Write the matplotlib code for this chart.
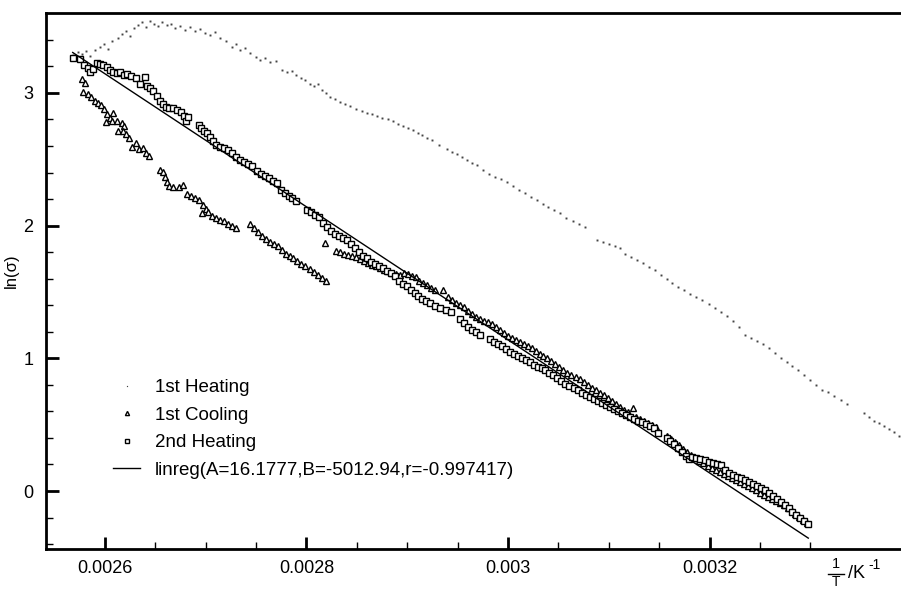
import matplotlib
matplotlib.use("Agg")
import matplotlib.pyplot as plt
from matplotlib.lines import Line2D
from matplotlib.ticker import FixedLocator

plt.rcParams['font.family'] = ['Liberation Sans', 'DejaVu Sans']

# ---------------- data ----------------
heat1_x = [0.002568, 0.002573, 0.002577, 0.002581, 0.002585, 0.002590, 0.002595, 0.002599,
           0.002603, 0.002607, 0.002613, 0.002617, 0.002621, 0.002625, 0.002629, 0.002633,
           0.002637, 0.002641, 0.002645, 0.002649, 0.002653, 0.002657, 0.002662, 0.002666,
           0.002670, 0.002674, 0.002679, 0.002684, 0.002689, 0.002694, 0.002699, 0.002704,
           0.002709, 0.002714, 0.002720, 0.002726, 0.002730, 0.002734, 0.002739, 0.002744,
           0.002750, 0.002754, 0.002759, 0.002764, 0.002770, 0.002776, 0.002781, 0.002786,
           0.002790, 0.002795, 0.002799, 0.002803, 0.002807, 0.002811, 0.002815, 0.002819,
           0.002823, 0.002828, 0.002833, 0.002838, 0.002843, 0.002849, 0.002855, 0.002860,
           0.002865, 0.002870, 0.002875, 0.002881, 0.002886, 0.002891, 0.002896, 0.002901,
           0.002906, 0.002911, 0.002915, 0.002920, 0.002925, 0.002932, 0.002939, 0.002944,
           0.002949, 0.002954, 0.002959, 0.002964, 0.002969, 0.002975, 0.002981, 0.002987,
           0.002993, 0.002999, 0.003005, 0.003011, 0.003017, 0.003023, 0.003029, 0.003035,
           0.003040, 0.003046, 0.003052, 0.003058, 0.003064, 0.003070, 0.003076, 0.003088,
           0.003094, 0.003100, 0.003106, 0.003111, 0.003116, 0.003122, 0.003128, 0.003134,
           0.003140, 0.003146, 0.003152, 0.003158, 0.003163, 0.003169, 0.003175, 0.003181,
           0.003187, 0.003193, 0.003199, 0.003205, 0.003211, 0.003217, 0.003223, 0.003229,
           0.003235, 0.003241, 0.003247, 0.003253, 0.003259, 0.003265, 0.003271, 0.003277,
           0.003282, 0.003288, 0.003294, 0.003300, 0.003306, 0.003312, 0.003318, 0.003324,
           0.003330, 0.003336, 0.003353, 0.003358, 0.003363, 0.003368, 0.003373, 0.003378,
           0.003383, 0.003388]
heat1_y = [3.286, 3.308, 3.293, 3.316, 3.278, 3.323, 3.346, 3.369,
           3.331, 3.391, 3.414, 3.444, 3.467, 3.429, 3.489, 3.512,
           3.534, 3.497, 3.542, 3.519, 3.504, 3.534, 3.512, 3.519,
           3.489, 3.504, 3.474, 3.497, 3.467, 3.482, 3.452, 3.436,
           3.459, 3.414, 3.391, 3.346, 3.369, 3.323, 3.338, 3.301,
           3.271, 3.248, 3.263, 3.233, 3.240, 3.173, 3.158, 3.165,
           3.135, 3.112, 3.097, 3.067, 3.052, 3.067, 3.022, 2.999,
           2.969, 2.954, 2.932, 2.916, 2.901, 2.879, 2.864, 2.849,
           2.841, 2.826, 2.811, 2.803, 2.788, 2.766, 2.750, 2.735,
           2.720, 2.698, 2.683, 2.660, 2.645, 2.607, 2.577, 2.555,
           2.540, 2.517, 2.494, 2.472, 2.457, 2.419, 2.389, 2.366,
           2.351, 2.329, 2.298, 2.268, 2.246, 2.216, 2.193, 2.163,
           2.140, 2.118, 2.095, 2.057, 2.035, 2.012, 1.990, 1.891,
           1.876, 1.861, 1.846, 1.831, 1.786, 1.763, 1.741, 1.718,
           1.688, 1.665, 1.628, 1.598, 1.567, 1.537, 1.515, 1.485,
           1.462, 1.439, 1.409, 1.379, 1.349, 1.319, 1.281, 1.236,
           1.176, 1.153, 1.130, 1.108, 1.078, 1.040, 1.002, 0.972,
           0.942, 0.912, 0.874, 0.836, 0.799, 0.761, 0.746, 0.716,
           0.686, 0.656, 0.588, 0.558, 0.527, 0.512, 0.490, 0.467,
           0.445, 0.414]

cool1_x = [0.002577, 0.002580, 0.002578, 0.002583, 0.002586, 0.002590, 0.002593, 0.002596,
           0.002599, 0.002602, 0.002605, 0.002608, 0.002607, 0.002601, 0.002612, 0.002617,
           0.002619, 0.002613, 0.002618, 0.002621, 0.002624, 0.002627, 0.002631, 0.002634,
           0.002638, 0.002641, 0.002644, 0.002655, 0.002658, 0.002660, 0.002662, 0.002664,
           0.002668, 0.002673, 0.002677, 0.002681, 0.002685, 0.002689, 0.002693, 0.002697,
           0.002700, 0.002696, 0.002702, 0.002706, 0.002710, 0.002714, 0.002718, 0.002722,
           0.002726, 0.002730, 0.002744, 0.002748, 0.002752, 0.002756, 0.002760, 0.002764,
           0.002768, 0.002772, 0.002776, 0.002780, 0.002784, 0.002787, 0.002791, 0.002795,
           0.002799, 0.002803, 0.002807, 0.002811, 0.002815, 0.002819, 0.002818, 0.002829,
           0.002833, 0.002837, 0.002841, 0.002845, 0.002849, 0.002853, 0.002857, 0.002861,
           0.002865, 0.002869, 0.002873, 0.002877, 0.002881, 0.002885, 0.002889, 0.002893,
           0.002897, 0.002901, 0.002905, 0.002909, 0.002912, 0.002916, 0.002920, 0.002924,
           0.002928, 0.002935, 0.002940, 0.002944, 0.002948, 0.002952, 0.002956, 0.002960,
           0.002964, 0.002968, 0.002972, 0.002976, 0.002980, 0.002984, 0.002988, 0.002992,
           0.002996, 0.003000, 0.003004, 0.003008, 0.003012, 0.003016, 0.003020, 0.003024,
           0.003028, 0.003032, 0.003035, 0.003039, 0.003043, 0.003047, 0.003051, 0.003055,
           0.003059, 0.003063, 0.003067, 0.003071, 0.003075, 0.003079, 0.003083, 0.003087,
           0.003091, 0.003095, 0.003099, 0.003103, 0.003107, 0.003111, 0.003115, 0.003119,
           0.003124, 0.003127, 0.003131, 0.003135, 0.003139, 0.003143, 0.003147, 0.003158,
           0.003162, 0.003166, 0.003170, 0.003174, 0.003178, 0.003182, 0.003186, 0.003190,
           0.003194, 0.003198, 0.003202, 0.003206, 0.003210, 0.003214, 0.003218, 0.003222,
           0.003226, 0.003230, 0.003234, 0.003238, 0.003242, 0.003246, 0.003250, 0.003254,
           0.003258, 0.003262, 0.003266, 0.003270, 0.003274, 0.003278, 0.003282, 0.003285,
           0.003289, 0.003293, 0.003297]
cool1_y = [3.105, 3.075, 3.007, 2.992, 2.969, 2.939, 2.924, 2.909,
           2.879, 2.841, 2.811, 2.849, 2.788, 2.781, 2.788, 2.773,
           2.751, 2.713, 2.713, 2.690, 2.660, 2.592, 2.622, 2.577,
           2.585, 2.547, 2.525, 2.419, 2.404, 2.366, 2.329, 2.298,
           2.291, 2.291, 2.306, 2.238, 2.223, 2.208, 2.193, 2.155,
           2.125, 2.095, 2.103, 2.072, 2.057, 2.042, 2.035, 2.012,
           1.997, 1.982, 2.012, 1.982, 1.952, 1.922, 1.899, 1.876,
           1.861, 1.846, 1.816, 1.786, 1.771, 1.756, 1.733, 1.711,
           1.696, 1.673, 1.650, 1.628, 1.605, 1.583, 1.869, 1.809,
           1.801, 1.786, 1.778, 1.771, 1.763, 1.748, 1.733, 1.718,
           1.703, 1.696, 1.681, 1.665, 1.658, 1.643, 1.635, 1.628,
           1.643, 1.635, 1.620, 1.613, 1.583, 1.568, 1.552, 1.530,
           1.515, 1.515, 1.462, 1.439, 1.417, 1.402, 1.387, 1.356,
           1.334, 1.311, 1.296, 1.281, 1.274, 1.259, 1.236, 1.213,
           1.191, 1.168, 1.153, 1.138, 1.123, 1.108, 1.093, 1.078,
           1.055, 1.032, 1.017, 1.002, 0.980, 0.957, 0.934, 0.912,
           0.889, 0.874, 0.859, 0.844, 0.821, 0.799, 0.776, 0.761,
           0.739, 0.723, 0.701, 0.678, 0.656, 0.633, 0.610, 0.595,
           0.625, 0.558, 0.543, 0.528, 0.512, 0.497, 0.482, 0.414,
           0.392, 0.369, 0.347, 0.317, 0.294, 0.271, 0.249, 0.226,
           0.211, 0.188, 0.173, 0.158, 0.143, 0.128, 0.113, 0.098,
           0.083, 0.068, 0.053, 0.038, 0.023, 0.008, -0.015, -0.030,
           -0.045, -0.060, -0.075, -0.090, -0.106, -0.128, -0.151, -0.173,
           -0.196, -0.219, -0.241]

heat2_x = [0.002568, 0.002575, 0.002579, 0.002583, 0.002585, 0.002588, 0.002592, 0.002595,
           0.002598, 0.002602, 0.002605, 0.002608, 0.002612, 0.002615, 0.002619, 0.002622,
           0.002626, 0.002631, 0.002635, 0.002640, 0.002642, 0.002645, 0.002648, 0.002652,
           0.002655, 0.002658, 0.002661, 0.002664, 0.002668, 0.002672, 0.002675, 0.002678,
           0.002680, 0.002682, 0.002693, 0.002695, 0.002698, 0.002701, 0.002704, 0.002707,
           0.002710, 0.002714, 0.002718, 0.002722, 0.002726, 0.002730, 0.002734, 0.002738,
           0.002742, 0.002746, 0.002751, 0.002755, 0.002759, 0.002763, 0.002767, 0.002771,
           0.002775, 0.002779, 0.002783, 0.002786, 0.002790, 0.002801, 0.002804, 0.002808,
           0.002812, 0.002816, 0.002820, 0.002824, 0.002828, 0.002832, 0.002836, 0.002840,
           0.002844, 0.002848, 0.002852, 0.002856, 0.002860, 0.002864, 0.002868, 0.002872,
           0.002876, 0.002880, 0.002884, 0.002888, 0.002892, 0.002896, 0.002900, 0.002904,
           0.002908, 0.002911, 0.002915, 0.002919, 0.002923, 0.002928, 0.002933, 0.002938,
           0.002943, 0.002952, 0.002956, 0.002960, 0.002964, 0.002968, 0.002972, 0.002982,
           0.002986, 0.002990, 0.002994, 0.002998, 0.003002, 0.003006, 0.003010, 0.003014,
           0.003018, 0.003022, 0.003026, 0.003030, 0.003034, 0.003037, 0.003041, 0.003045,
           0.003049, 0.003053, 0.003057, 0.003061, 0.003065, 0.003069, 0.003073, 0.003077,
           0.003081, 0.003085, 0.003089, 0.003093, 0.003097, 0.003101, 0.003105, 0.003109,
           0.003113, 0.003117, 0.003121, 0.003125, 0.003129, 0.003133, 0.003137, 0.003141,
           0.003145, 0.003149, 0.003158, 0.003161, 0.003165, 0.003169, 0.003173, 0.003177,
           0.003180, 0.003183, 0.003187, 0.003191, 0.003195, 0.003199, 0.003203, 0.003207,
           0.003211, 0.003215, 0.003219, 0.003223, 0.003227, 0.003231, 0.003235, 0.003239,
           0.003243, 0.003247, 0.003251, 0.003255, 0.003259, 0.003263, 0.003267, 0.003271,
           0.003275, 0.003279, 0.003282, 0.003286, 0.003290, 0.003294, 0.003298]
heat2_y = [3.263, 3.256, 3.210, 3.188, 3.158, 3.180, 3.225, 3.218,
           3.210, 3.195, 3.173, 3.158, 3.150, 3.158, 3.135, 3.143,
           3.127, 3.112, 3.067, 3.120, 3.052, 3.037, 3.014, 2.977,
           2.939, 2.916, 2.894, 2.886, 2.886, 2.871, 2.856, 2.826,
           2.788, 2.818, 2.758, 2.736, 2.713, 2.698, 2.668, 2.638,
           2.607, 2.592, 2.585, 2.570, 2.547, 2.517, 2.494, 2.479,
           2.464, 2.449, 2.412, 2.389, 2.374, 2.359, 2.336, 2.321,
           2.268, 2.246, 2.223, 2.208, 2.185, 2.118, 2.103, 2.080,
           2.065, 2.020, 1.990, 1.959, 1.937, 1.922, 1.907, 1.892,
           1.861, 1.831, 1.801, 1.771, 1.756, 1.726, 1.711, 1.696,
           1.681, 1.658, 1.643, 1.620, 1.583, 1.560, 1.545, 1.515,
           1.492, 1.470, 1.447, 1.432, 1.417, 1.394, 1.379, 1.364,
           1.349, 1.296, 1.266, 1.236, 1.213, 1.198, 1.176, 1.145,
           1.123, 1.108, 1.093, 1.070, 1.047, 1.032, 1.017, 1.002,
           0.987, 0.972, 0.950, 0.934, 0.927, 0.912, 0.889, 0.874,
           0.852, 0.829, 0.806, 0.791, 0.776, 0.761, 0.739, 0.723,
           0.708, 0.693, 0.678, 0.663, 0.648, 0.633, 0.618, 0.603,
           0.588, 0.573, 0.558, 0.543, 0.528, 0.520, 0.505, 0.490,
           0.475, 0.437, 0.399, 0.377, 0.354, 0.324, 0.294, 0.264,
           0.241, 0.256, 0.249, 0.241, 0.234, 0.219, 0.211, 0.203,
           0.196, 0.158, 0.136, 0.121, 0.106, 0.098, 0.083, 0.068,
           0.053, 0.038, 0.023, 0.008, -0.015, -0.038, -0.060, -0.083,
           -0.106, -0.128, -0.158, -0.181, -0.203, -0.226, -0.249]

fit_A = 16.1777
fit_B = -5012.94
fit_r = -0.997417
fit_x = [0.002568, 0.003298]

x_major = [0.0026, 0.0028, 0.003, 0.0032]
x_major_labels = ["0.0026", "0.0028", "0.003", "0.0032"]
x_minor = [0.00265, 0.0027, 0.00275, 0.00285, 0.0029, 0.00295,
           0.00305, 0.0031, 0.00315, 0.00325, 0.0033]
y_major = [0, 1, 2, 3]
y_major_labels = ["0", "1", "2", "3"]
y_minor = [-0.4, -0.2, 0.2, 0.4, 0.6, 0.8, 1.2, 1.4, 1.6, 1.8,
           2.2, 2.4, 2.6, 2.8, 3.2, 3.4]

# ---------------- figure ----------------
W, H = 901, 590
fig = plt.figure(figsize=(W / 100, H / 100), dpi=100)
ax = fig.add_axes([46 / W, 41 / H, 855 / W, 536 / H])

ax.plot(heat1_x, heat1_y, linestyle='none', marker='s', markersize=1.4,
        markeredgewidth=0, color='#444444', label='1st Heating')
ax.plot(cool1_x, cool1_y, linestyle='none', marker='^', markersize=5.0,
        markerfacecolor='white', markeredgecolor='black', markeredgewidth=1.0,
        label='1st Cooling')
ax.plot(heat2_x, heat2_y, linestyle='none', marker='s', markersize=4.8,
        markerfacecolor='white', markeredgecolor='black', markeredgewidth=1.0,
        label='2nd Heating')
fit_y = [fit_A + fit_B * v for v in fit_x]
ax.plot(fit_x, fit_y, color='black', linewidth=1.0,
        label='linreg(A=%g,B=%g,r=%g)' % (fit_A, fit_B, fit_r))

ax.set_xlim(0.0025415, 0.003390)
ax.set_ylim(-0.437, 3.602)

for s in ['left', 'bottom', 'top']:
    ax.spines[s].set_linewidth(2.0)
ax.spines['right'].set_visible(False)

ax.xaxis.set_major_locator(FixedLocator(x_major))
ax.xaxis.set_minor_locator(FixedLocator(x_minor))
ax.set_xticklabels(x_major_labels)
ax.yaxis.set_major_locator(FixedLocator(y_major))
ax.yaxis.set_minor_locator(FixedLocator(y_minor))
ax.set_yticklabels(y_major_labels)

ax.tick_params(axis='both', which='major', direction='in', length=9, width=2.0,
               labelsize=13)
ax.tick_params(axis='both', which='minor', direction='in', length=5, width=1.0)
ax.tick_params(axis='x', which='both', top=False, pad=8)
ax.tick_params(axis='y', which='both', right=False, pad=9)

ax.set_ylabel('ln(σ)', fontsize=12)
ax.yaxis.set_label_coords(-27 / 855, 0.52)

# x-axis label: 1/T /K^-1 written as a stacked fraction
fig.text(836 / W, 1 - 564 / H, '1', fontsize=10.5, ha='center', va='center')
fig.text(836 / W, 1 - 582 / H, 'T', fontsize=10, ha='center', va='center')
fig.add_artist(Line2D([828 / W, 844 / W], [1 - 574 / H, 1 - 574 / H],
                      color='black', linewidth=1.0, transform=fig.transFigure))
fig.text(848 / W, 1 - 573 / H, '/K', fontsize=13, ha='left', va='center')
fig.text(868 / W, 1 - 565 / H, '-1', fontsize=10, ha='left', va='center')

leg = ax.legend(loc='upper left', bbox_to_anchor=(0.0696, 0.331),
                frameon=False, fontsize=13.5, handlelength=1.45, handletextpad=0.8,
                labelspacing=0.55, borderaxespad=0, markerscale=0.6)

fig.savefig('out.png', dpi=100)
